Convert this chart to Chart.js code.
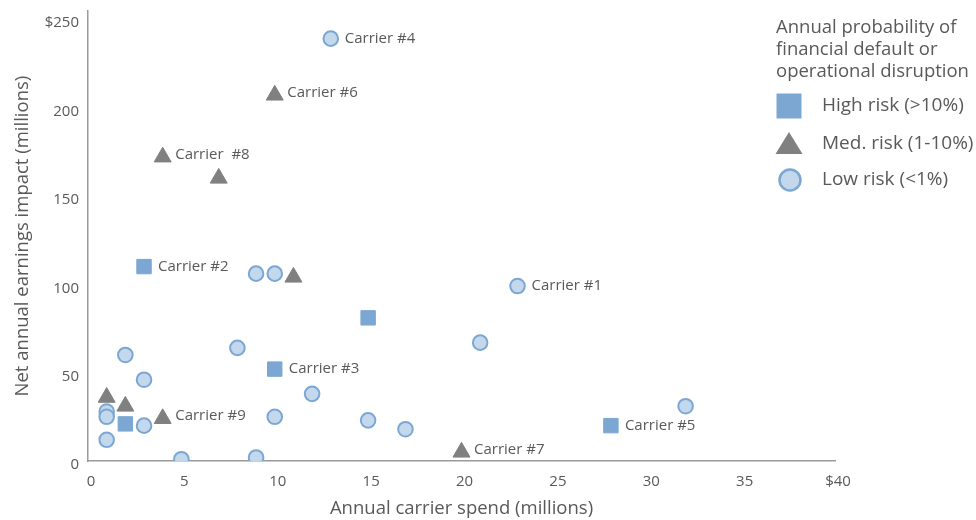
<!DOCTYPE html>
<html>
<head>
<meta charset="utf-8">
<script src="https://cdn.jsdelivr.net/npm/chart.js@4/dist/chart.umd.min.js"></script>
<style>
  html, body { margin: 0; padding: 0; background: #fff; }
  #wrap { width: 976px; height: 520px; }
</style>
</head>
<body>
<div id="wrap"><canvas id="c" width="976" height="520"></canvas></div>
<script>
// Annual carrier spend (x, $M) vs net annual earnings impact (y, $M)
const highRiskPoints = [[3, 110], [15, 81], [10, 52], [2, 21], [28, 20]];
const highRiskLabels = ['Carrier #2', '', 'Carrier #3', '', 'Carrier #5'];

const medRiskPoints = [[10, 207], [4, 172], [7, 160], [11, 104], [1, 36], [2, 31], [4, 24], [20, 5]];
const medRiskLabels = ['Carrier #6', 'Carrier  #8', '', '', '', '', 'Carrier #9', 'Carrier #7'];

const lowRiskPoints = [[13, 239], [9, 106], [10, 106], [23, 99], [21, 67], [8, 64], [2, 60], [3, 46],
  [12, 38], [32, 31], [1, 28], [1, 25], [10, 25], [15, 23], [3, 20], [17, 18], [1, 12], [5, 1], [9, 2]];
const lowRiskLabels = ['Carrier #4', '', '', 'Carrier #1'];

const seriesNames = ['High risk (>10%)', 'Med. risk (1-10%)', 'Low risk (<1%)'];
const legendTitle = ['Annual probability of', 'financial default or', 'operational disruption'];
const xTicks = [0, 5, 10, 15, 20, 25, 30, 35, 40];
const yTicks = [0, 50, 100, 150, 200, 250];
const xTitle = 'Annual carrier spend (millions)';
const yTitle = 'Net annual earnings impact (millions)';

const FONT = '"Open Sans", "Noto Sans", sans-serif';
const TEXT = '#595959';
const BLUE = '#7ba7d2';
const GREY = '#808080';
const LIGHT = '#c3d8ec';

const toXY = pts => pts.map(([x, y]) => ({ x, y }));

// Writes the carrier name beside each labelled marker
const pointLabels = {
  id: 'pointLabels',
  afterDatasetsDraw(chart) {
    const ctx = chart.ctx;
    ctx.save();
    ctx.font = '15px ' + FONT;
    ctx.fillStyle = TEXT;
    ctx.textAlign = 'left';
    ctx.textBaseline = 'middle';
    chart.data.datasets.forEach((ds, i) => {
      const meta = chart.getDatasetMeta(i);
      const tri = ds.pointStyle === 'triangle';
      (ds.pointLabels || []).forEach((txt, j) => {
        if (!txt) return;
        const el = meta.data[j];
        ctx.fillText(txt, el.x + (tri ? 12.5 : 14), el.y + (tri ? -2.5 : 0));
      });
    });
    ctx.restore();
  }
};

// Side legend with a wrapped heading and large markers
const sideLegend = {
  id: 'sideLegend',
  afterDraw(chart) {
    const ctx = chart.ctx;
    ctx.save();
    ctx.fillStyle = TEXT;
    ctx.font = '18.5px ' + FONT;
    ctx.textAlign = 'left';
    ctx.textBaseline = 'alphabetic';
    legendTitle.forEach((line, i) => ctx.fillText(line, 776, 33 + i * 22));

    const mx = 789;
    const rows = [106, 144, 180];
    // square
    ctx.fillStyle = BLUE;
    ctx.fillRect(mx - 12.5, rows[0] - 12.5, 25, 25);
    // triangle
    ctx.fillStyle = GREY;
    ctx.beginPath();
    ctx.moveTo(mx, rows[1] - 12);
    ctx.lineTo(mx + 13.5, rows[1] + 10);
    ctx.lineTo(mx - 13.5, rows[1] + 10);
    ctx.closePath();
    ctx.fill();
    // circle
    ctx.beginPath();
    ctx.arc(mx + 1, rows[2], 10.5, 0, Math.PI * 2);
    ctx.fillStyle = LIGHT;
    ctx.fill();
    ctx.lineWidth = 2.5;
    ctx.strokeStyle = BLUE;
    ctx.stroke();

    ctx.fillStyle = TEXT;
    ctx.font = '19px ' + FONT;
    ctx.textBaseline = 'middle';
    seriesNames.forEach((name, i) => ctx.fillText(name, 822, rows[i]));
    ctx.restore();
  }
};

new Chart(document.getElementById('c'), {
  type: 'scatter',
  data: {
    datasets: [
      {
        label: seriesNames[0],
        data: toXY(highRiskPoints),
        pointLabels: highRiskLabels,
        pointStyle: 'rect',
        pointRadius: 10.2,
        pointHoverRadius: 10.2,
        backgroundColor: BLUE,
        borderColor: BLUE,
        borderWidth: 1
      },
      {
        label: seriesNames[1],
        data: toXY(medRiskPoints),
        pointLabels: medRiskLabels,
        pointStyle: 'triangle',
        pointRadius: 9.8,
        pointHoverRadius: 9.8,
        backgroundColor: GREY,
        borderColor: GREY,
        borderWidth: 1
      },
      {
        label: seriesNames[2],
        data: toXY(lowRiskPoints),
        pointLabels: lowRiskLabels,
        pointStyle: 'circle',
        pointRadius: 7.3,
        pointHoverRadius: 7.3,
        backgroundColor: LIGHT,
        borderColor: BLUE,
        borderWidth: 2
      }
    ]
  },
  options: {
    responsive: false,
    animation: false,
    devicePixelRatio: 1,
    layout: { padding: { top: 10, right: 141, left: 0, bottom: 0 } },
    plugins: {
      legend: { display: false },
      tooltip: { enabled: false }
    },
    scales: {
      x: {
        type: 'linear',
        min: 0,
        max: 40,
        afterBuildTicks: s => { s.ticks = xTicks.map(v => ({ value: v })); },
        afterFit: s => { s.height = 59; s.paddingLeft = 0; s.paddingRight = 0; },
        ticks: {
          color: TEXT,
          font: { family: FONT, size: 15 },
          padding: 12,
          labelOffset: 3,
          callback: v => (v === 40 ? '$' + v : String(v))
        },
        grid: { drawOnChartArea: false, drawTicks: false },
        border: { display: true, color: '#9a9a9a', width: 1.5 },
        title: {
          display: true,
          text: xTitle,
          color: TEXT,
          font: { family: FONT, size: 18.5 },
          padding: { top: 0, bottom: 0 }
        }
      },
      y: {
        type: 'linear',
        min: 0,
        max: 254.5,
        afterBuildTicks: s => { s.ticks = yTicks.map(v => ({ value: v })); },
        afterFit: s => { s.width = 88; s.paddingTop = 0; s.paddingBottom = 0; },
        ticks: {
          color: TEXT,
          font: { family: FONT, size: 15 },
          padding: 9,
          labelOffset: 4,
          callback: v => (v === 250 ? '$' + v : String(v))
        },
        grid: { drawOnChartArea: false, drawTicks: false },
        border: { display: true, color: '#9a9a9a', width: 1.5 },
        title: {
          display: true,
          text: yTitle,
          color: TEXT,
          font: { family: FONT, size: 18.5 },
          padding: { top: 12, bottom: 0 }
        }
      }
    }
  },
  plugins: [pointLabels, sideLegend]
});
</script>
</body>
</html>
